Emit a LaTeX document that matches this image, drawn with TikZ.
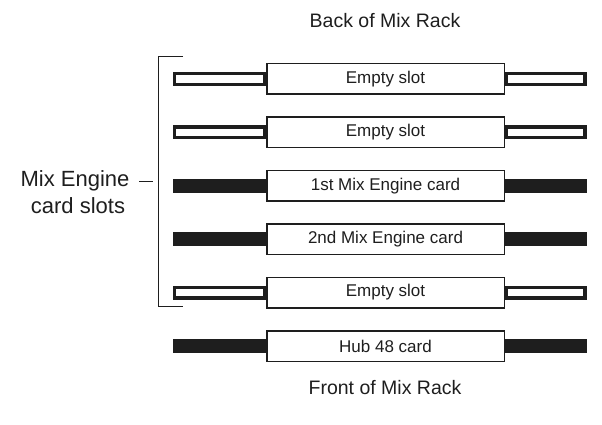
\documentclass[tikz,border=0pt]{standalone}
\usepackage{fontspec}
\setmainfont{Liberation Sans}
\definecolor{ink}{HTML}{1E1E1E}
\begin{document}
\begin{tikzpicture}[x=1pt,y=-1pt,
  slotbox/.style={draw=ink, line width=1pt, fill=white, minimum width=237pt, minimum height=30pt, inner sep=0pt, font=\fontsize{17}{20}\selectfont, text=ink},
  emptybar/.style={draw=ink, line width=3.2pt, fill=white},
  fullbar/.style={fill=ink},
  titletext/.style={font=\fontsize{19.5}{23}\selectfont, text=ink},
  labtext/.style={font=\fontsize{22}{26}\selectfont, text=ink},
  thinline/.style={draw=ink, line width=1pt},
]
\useasboundingbox (0,0) rectangle (602,425);
\node[titletext] (back) at (385,21) {Back of Mix Rack};
\node[titletext] (front) at (385,388) {Front of Mix Rack};
\foreach \n/\y/\t in {1/79/Empty slot, 2/132.4/Empty slot, 3/185.8/1st Mix Engine card, 4/239.2/2nd Mix Engine card, 5/292.6/Empty slot, 6/346/Hub 48 card}{
  \node[slotbox] (s\n) at (385.5,\y) {\t};
}
% empty slot guides
\foreach \n in {1,2,5}{
  \draw[emptybar] ([shift={(-1.6pt,-5.4pt)}]s\n.west) rectangle ([shift={(-92.4pt,5.4pt)}]s\n.west);
  \draw[emptybar] ([shift={(1.6pt,-5.4pt)}]s\n.east) rectangle ([shift={(80.4pt,5.4pt)}]s\n.east);
}
% occupied slot guides
\foreach \n in {3,4,6}{
  \fill[fullbar] ([yshift=-7pt]s\n.west) rectangle ([shift={(-94pt,7pt)}]s\n.west);
  \fill[fullbar] ([yshift=-7pt]s\n.east) rectangle ([shift={(82pt,7pt)}]s\n.east);
}
\foreach \n in {1,...,6}{
  \draw[thinline] (s\n.north west) rectangle (s\n.south east);
}
% bracket
\coordinate (bt) at (183,57);
\coordinate (bb) at (183,306);
\draw[thinline] (bt) -- (158,57) -- (158,306) -- (bb);
\node[labtext, anchor=east] (l1) at (133,181) {Mix Engine};
\node[labtext] (l2) at (78,206) {card slots};
\coordinate (tk) at (153,181);
\draw[thinline] ([xshift=6pt]l1.east) -- (tk);
\end{tikzpicture}
\end{document}
